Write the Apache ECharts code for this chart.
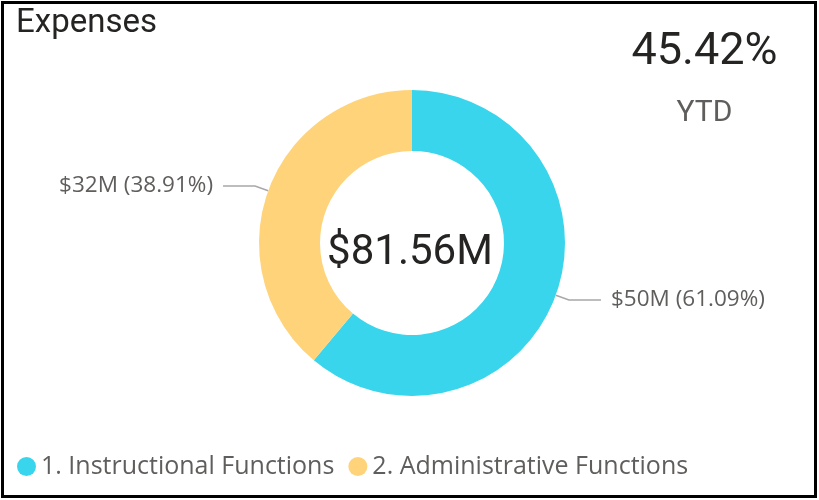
<!DOCTYPE html>
<html>
<head>
<meta charset="utf-8">
<script src="https://cdn.jsdelivr.net/npm/echarts@6/dist/echarts.min.js"></script>
<style>
html,body{margin:0;padding:0;background:#fff;}
#chart{width:819px;height:500px;}
</style>
</head>
<body>
<div id="chart"></div>
<script>
// ---- data ----
const categories = ['1. Instructional Functions', '2. Administrative Functions'];
const valuesMillions = [49.825, 31.735];
const colors = ['#38D5EC', '#FED37A'];
const titleText = 'Expenses';
const kpiValue = '45.42%';
const kpiLabel = 'YTD';

const total = valuesMillions.reduce((a, b) => a + b, 0);
const centerText = '$' + total.toFixed(2) + 'M';

const chart = echarts.init(document.getElementById('chart'), null, {renderer: 'canvas'});
const option = {
  animation: false,
  color: colors,
  legend: {
    left: 12,
    top: 449,
    icon: 'circle',
    itemWidth: 19,
    itemHeight: 19,
    itemGap: 14,
    textStyle: {fontFamily: 'Open Sans', fontSize: 25, color: '#605E5C'},
    data: categories
  },
  graphic: [
    {type: 'rect', silent: true, shape: {x: 2.5, y: 2.5, width: 813, height: 494},
     style: {fill: null, stroke: '#000', lineWidth: 3}},
    {type: 'text', silent: true, style: {text: titleText, x: 16, y: 24, fill: '#252423',
      font: '33px Roboto', textAlign: 'left', textVerticalAlign: 'middle'}},
    {type: 'text', silent: true, style: {text: kpiValue, x: 704.5, y: 53, fill: '#252423',
      font: '45px Roboto', textAlign: 'center', textVerticalAlign: 'middle'}},
    {type: 'text', silent: true, style: {text: kpiLabel, x: 704.5, y: 113, fill: '#605E5C',
      font: '30px Roboto', textAlign: 'center', textVerticalAlign: 'middle'}},
    {type: 'text', silent: true, style: {text: centerText, x: 410, y: 253, fill: '#252423',
      font: '42px Roboto', textAlign: 'center', textVerticalAlign: 'middle'}}
  ],
  series: [{
    type: 'pie',
    center: [412, 243],
    radius: [92, 153],
    startAngle: 90,
    clockwise: true,
    avoidLabelOverlap: false,
    emphasis: {disabled: true},
    itemStyle: {borderWidth: 0},
    label: {
      show: true,
      position: 'outside',
      fontFamily: 'Open Sans',
      fontSize: 22.5,
      color: '#605E5C',
      distanceToLabelLine: 10,
      formatter: function (p) {
        const pct = (valuesMillions[p.dataIndex] / total * 100).toFixed(2);
        return '$' + Math.round(p.value) + 'M (' + pct + '%)';
      }
    },
    labelLine: {show: true, length: 14, length2: 32, lineStyle: {color: '#A8A8A8', width: 1.5}},
    data: categories.map((c, i) => ({name: c, value: valuesMillions[i]}))
  }]
};
chart.setOption(option);
</script>
</body>
</html>
